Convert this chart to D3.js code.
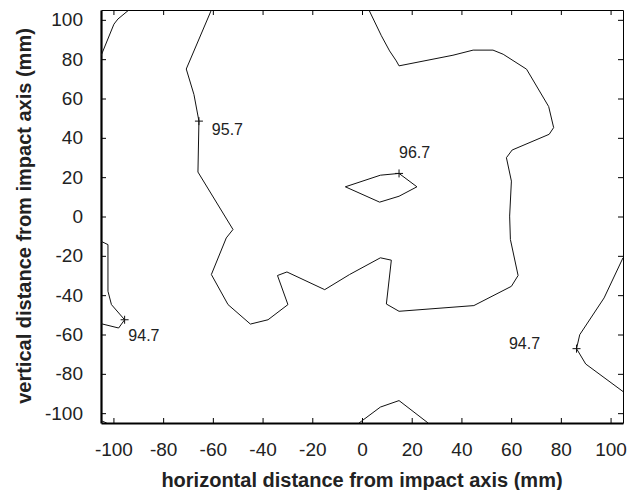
<!DOCTYPE html>
<html>
<head>
<meta charset="utf-8">
<script src="https://cdn.jsdelivr.net/npm/d3@7"></script>
<style>
  body { margin: 0; background: #fff; }
  svg text { font-family: "Liberation Sans", Arial, sans-serif; fill: #222; }
</style>
</head>
<body>
<div id="chart"></div>
<script>
// chart size and plot box
const width = 628;
const height = 490;
const margin = {top: 10, right: 5, bottom: 67, left: 101};

// contour lines, [x, y] in mm
const cornerTopLeft = [[-105, 81.7], [-99.8, 97.8], [-98.2, 100.4], [-93.8, 105]];
const contour957 = [
  [-60.6, 105], [-70.7, 75], [-67.6, 62], [-65.6, 48.5], [-66, 22.6], [-51.9, -6.6],
  [-54.6, -10.9], [-60.6, -29.5], [-53.9, -44.8], [-44.9, -54.7], [-37.8, -52.5],
  [-29.8, -44.8], [-34, -30], [-30.2, -28.2], [-15, -37.2], [-5, -29.5], [7.4, -21],
  [11.8, -22.2], [9.8, -44.5], [14.9, -48.2], [45, -45.3], [60.1, -35.5], [62.8, -30],
  [59.7, -11.7], [59.4, 0.2], [60.1, 18], [58.1, 29.9], [60.4, 33.8], [75.3, 41.8],
  [77.1, 45.2], [75.1, 55.9], [66.2, 74.9], [56.8, 82.5], [52.7, 84.6], [44.7, 84.6],
  [36.6, 82], [14.9, 76.6], [13.8, 79.1], [11.1, 84.2], [7.8, 91.9], [2.8, 105]
];
const contour967 = [
  [-6.7, 15.1], [7.4, 21], [14.9, 21.9], [22.1, 15.1], [14.9, 10.3], [7.1, 7.3], [-6.7, 15.1]
];
const contour947Left = [
  [-105, -12.6], [-102.2, -14.3], [-102.2, -38], [-100.8, -44.8], [-95.5, -52.5],
  [-97.9, -56.7], [-105, -54.5]
];
const contour947Right = [
  [105, -21], [97.4, -41.4], [87.6, -60.1], [86.3, -67.2], [90, -75], [105, -89]
];
const contourBottom = [[-1.2, -105], [7.4, -96.9], [14.9, -93.6], [26.6, -105]];
const cornerBottomLeft = [[-105, -103.8], [-102.7, -105]];

const lines = [cornerTopLeft, contour957, contour967, contour947Left, contour947Right, contourBottom, cornerBottomLeft];

// labels: text, marker point, label anchor
const labels = [
  {text: "95.7", at: [-65.6, 48.5], pos: [-60.4, 41.3]},
  {text: "96.7", at: [14.9, 21.9], pos: [14.9, 29.6]},
  {text: "94.7", at: [-95.5, -52.5], pos: [-94.0, -63.4]},
  {text: "94.7", at: [86.3, -67.2], pos: [59.1, -67.3]}
];

const ticks = [-100, -80, -60, -40, -20, 0, 20, 40, 60, 80, 100];

const svg = d3.select("#chart").append("svg")
  .attr("width", width)
  .attr("height", height);

const x = d3.scaleLinear().domain([-105, 105]).range([margin.left, width - margin.right]);
const y = d3.scaleLinear().domain([-105, 105]).range([height - margin.bottom, margin.top]);

// inward ticks on all four sides, plain hyphen minus like the original
const tickLen = 5;
const fmt = d => String(d);
svg.append("g")
  .attr("transform", `translate(0,${height - margin.bottom})`)
  .call(d3.axisBottom(x).tickValues(ticks).tickFormat(fmt).tickSizeInner(-tickLen).tickSizeOuter(0).tickPadding(20))
  .call(g => g.select(".domain").attr("stroke-width", 2.2));
svg.append("g")
  .attr("transform", `translate(0,${margin.top})`)
  .call(d3.axisTop(x).tickValues(ticks).tickSizeInner(-tickLen).tickSizeOuter(0).tickFormat(""))
  .call(g => g.select(".domain").attr("stroke-width", 1));
svg.append("g")
  .attr("transform", `translate(${margin.left},0)`)
  .call(d3.axisLeft(y).tickValues(ticks).tickFormat(fmt).tickSizeInner(-tickLen).tickSizeOuter(0).tickPadding(18))
  .call(g => g.select(".domain").attr("stroke-width", 2.2));
svg.append("g")
  .attr("transform", `translate(${width - margin.right},0)`)
  .call(d3.axisRight(y).tickValues(ticks).tickSizeInner(-tickLen).tickSizeOuter(0).tickFormat(""))
  .call(g => g.select(".domain").attr("stroke-width", 1));

svg.selectAll(".tick text")
  .attr("font-size", 19)
  .attr("font-family", "Liberation Sans, Arial, sans-serif")
  .attr("fill", "#222");

// contour lines
const line = d3.line().x(d => x(d[0])).y(d => y(d[1]));
svg.append("defs").append("clipPath").attr("id", "clip")
  .append("rect")
  .attr("x", margin.left).attr("y", margin.top)
  .attr("width", width - margin.left - margin.right)
  .attr("height", height - margin.top - margin.bottom);
svg.append("g").attr("clip-path", "url(#clip)")
  .selectAll("path")
  .data(lines)
  .join("path")
  .attr("d", line)
  .attr("fill", "none")
  .attr("stroke", "#111")
  .attr("stroke-width", 1);

// plus markers and labels
const lab = svg.append("g");
lab.selectAll("path.mark")
  .data(labels)
  .join("path")
  .attr("class", "mark")
  .attr("d", d => `M${x(d.at[0]) - 4},${y(d.at[1])}h8M${x(d.at[0])},${y(d.at[1]) - 4}v8`)
  .attr("stroke", "#111")
  .attr("stroke-width", 1);
lab.selectAll("text")
  .data(labels)
  .join("text")
  .attr("x", d => x(d.pos[0]))
  .attr("y", d => y(d.pos[1]))
  .attr("font-size", 16)
  .text(d => d.text);

// axis titles
svg.append("text")
  .attr("x", x(0))
  .attr("y", 487)
  .attr("text-anchor", "middle")
  .attr("font-size", 20)
  .attr("font-weight", "bold")
  .text("horizontal distance from impact axis (mm)");
svg.append("text")
  .attr("transform", `translate(31,216) rotate(-90)`)
  .attr("text-anchor", "middle")
  .attr("font-size", 20)
  .attr("font-weight", "bold")
  .text("vertical distance from impact axis (mm)");
</script>
</body>
</html>
